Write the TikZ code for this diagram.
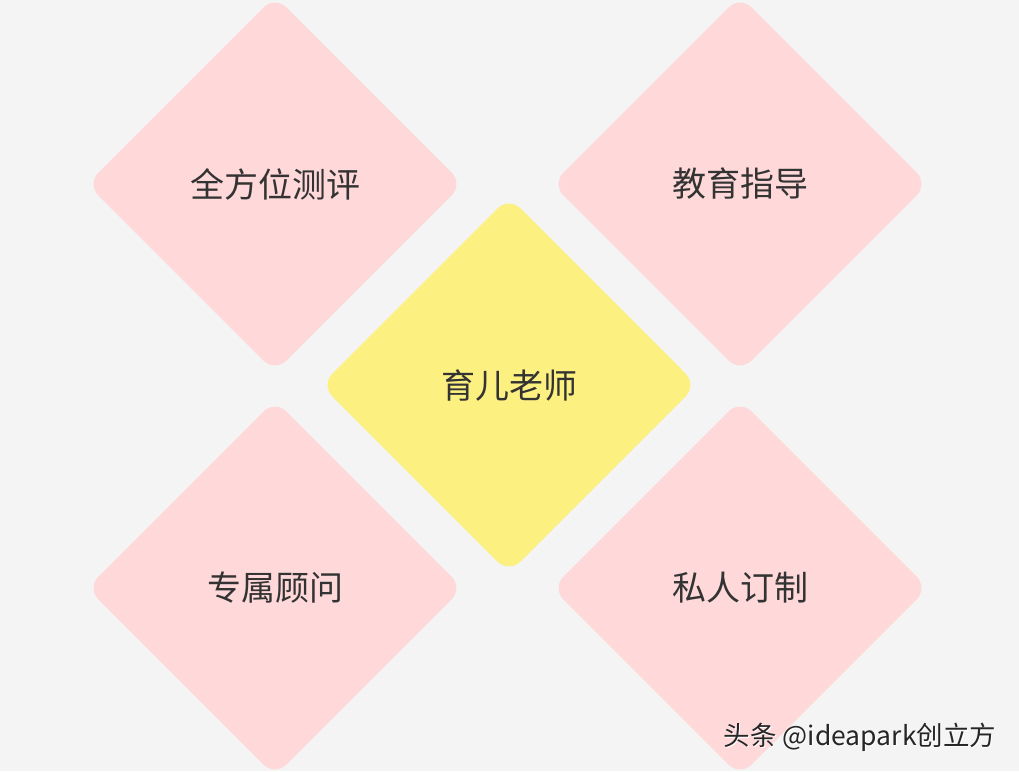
\documentclass[tikz,border=0pt]{standalone}
\usepackage{fontspec}
\newfontfamily\cjk{Noto Sans CJK SC}
\definecolor{bgc}{HTML}{F4F4F4}
\definecolor{pinkc}{HTML}{FFD9D9}
\definecolor{yelc}{HTML}{FCF081}
\definecolor{txtc}{HTML}{333333}
\begin{document}
\begin{tikzpicture}[x=1pt,y=-1pt,
  dia/.style={rounded corners=16pt},
  lbl/.style={font=\cjk\fontsize{34}{38}\selectfont, text=txtc, inner sep=0pt}]
\fill[bgc] (0,0) rectangle (1019,771);
\useasboundingbox (0,0) rectangle (1019,771);
\def\dd{188}
\foreach \cx/\cy/\col in {275/184/pinkc, 740/184/pinkc, 275/588/pinkc, 740/588/pinkc, 509/385/yelc}{
  \fill[\col,dia] (\cx-\dd,\cy) -- (\cx,\cy-\dd) -- (\cx+\dd,\cy) -- (\cx,\cy+\dd) -- cycle;
}
\node[lbl] (a) at (275,184) {全方位测评};
\node[lbl] (b) at (740,184) {教育指导};
\node[lbl] (c) at (509,385) {育儿老师};
\node[lbl] (d) at (275,588) {专属顾问};
\node[lbl] (e) at (740,588) {私人订制};
\node[font=\cjk\fontsize{26.5}{30}\selectfont, text=white, inner sep=0pt] (wms) at (861,738) {头条 @ideapark创立方};
\node[font=\cjk\fontsize{26.5}{30}\selectfont, text=black!85, inner sep=0pt] (wm) at (860,737) {头条 @ideapark创立方};
\end{tikzpicture}
\end{document}
